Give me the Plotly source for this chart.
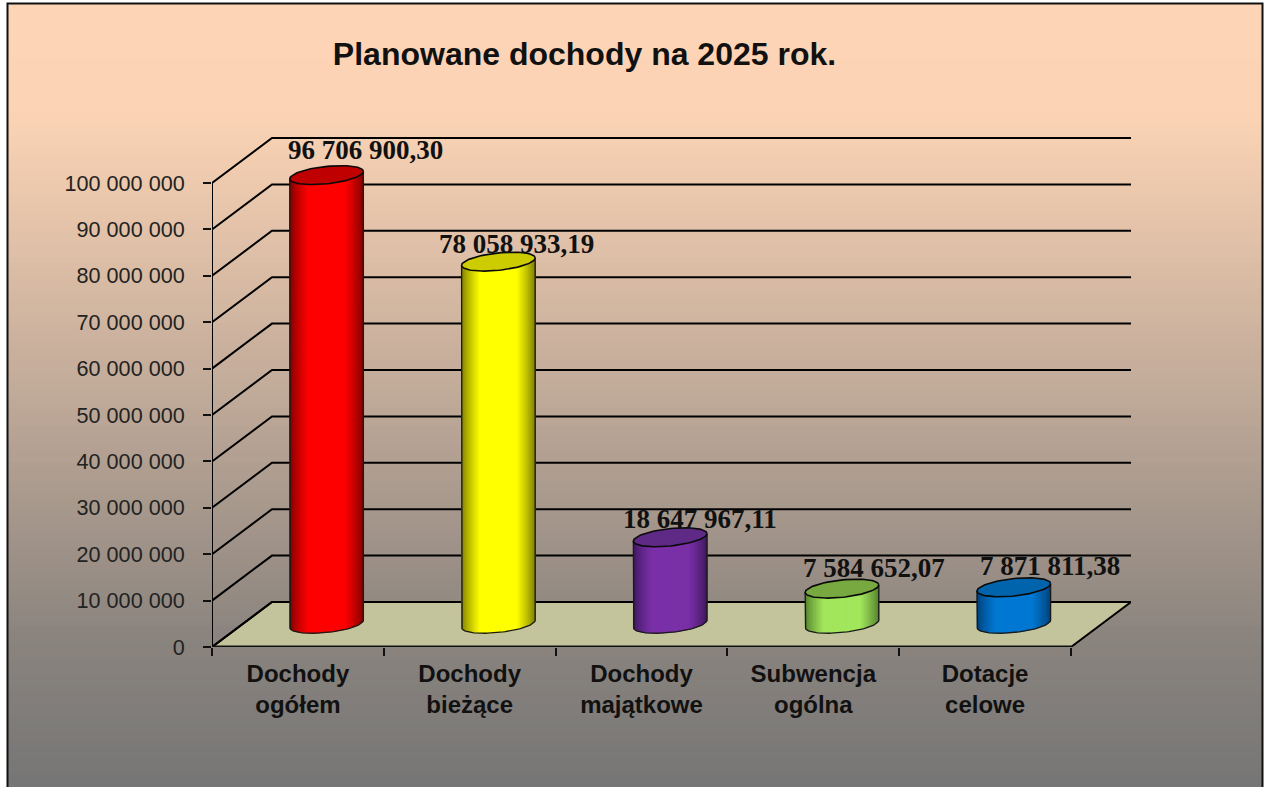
import numpy as np
import plotly.graph_objects as go

# ---- data ----
categories = ["Dochody<br>ogółem", "Dochody<br>bieżące", "Dochody<br>majątkowe", "Subwencja<br>ogólna", "Dotacje<br>celowe"]
values = [96706900.30, 78058933.19, 18647967.11, 7584652.07, 7871811.38]
value_labels = ["96 706 900,30", "78 058 933,19", "18 647 967,11", "7 584 652,07", "7 871 811,38"]
y_ticks = [0, 10000000, 20000000, 30000000, 40000000, 50000000, 60000000, 70000000, 80000000, 90000000, 100000000]
y_tick_labels = ["0", "10 000 000", "20 000 000", "30 000 000", "40 000 000", "50 000 000",
                 "60 000 000", "70 000 000", "80 000 000", "90 000 000", "100 000 000"]
title_text = "Planowane dochody na 2025 rok."

# ---- styles / geometry ----
W, H = 1264, 787
L, T, R, B = 212, 137, 1131, 647
PX_X = 171.8
PX_Y = 4.64e-6
XMAX = (R - L) / PX_X
YMAX = (B - T) / PX_Y
DX = 60 / PX_X          # depth of the floor, x units
DY = 45 / PX_Y          # depth of the floor, y units
BAR_DX = 0.478
BAR_DY = 0.515
A = 36.8 / PX_X
EB = 8.7 / PX_Y
ES = 3.7 / PX_Y
center_cols = ["#FF0000", "#FFFF00", "#7A30A8", "#A2E65C", "#0078D2"]
edge_cols = ["#7C0000", "#7A7A00", "#3E1A5E", "#527E2E", "#004078"]
top_cols = ["#C00000", "#CCCC00", "#5E2A85", "#78A840", "#0064AC"]
label_shift = [(39, 25), (18, 18), (30, 18), (32, 21), (36, 21)]
FLOOR = "#C3C39C"
BG_STOPS = [(0.0, (254, 214, 183)), (0.14, (252, 212, 181)), (0.5, (192, 170, 153)), (0.8, (140, 133, 127)), (1.0, (118, 118, 118))]


def rgb(c):
    c = c.lstrip("#")
    return np.array([int(c[i:i + 2], 16) for i in (0, 2, 4)], float)


def mix(a, b, g):
    v = rgb(a) + (rgb(b) - rgb(a)) * g
    return "rgb(%d,%d,%d)" % tuple(v)


fig = go.Figure()


def line(xs, ys, color="black", width=2):
    fig.add_trace(go.Scatter(x=xs, y=ys, mode="lines", line=dict(color=color, width=width),
                             hoverinfo="skip", showlegend=False, cliponaxis=False))


def poly(xs, ys, fill, lc=None, lw=0.6):
    fig.add_trace(go.Scatter(x=list(xs), y=list(ys), mode="lines", fill="toself", fillcolor=fill,
                             line=dict(color=lc or fill, width=lw), hoverinfo="skip",
                             showlegend=False, cliponaxis=False))


# floor
n = len(categories)
poly([0, n, n + DX, DX, 0], [0, 0, DY, DY, 0], FLOOR, "black", 2)

# walls / grid
gx, gy = [], []
for v in y_ticks:
    gx += [0, DX, n + DX, None]
    gy += [v, v + DY, v + DY, None]
line(gx, gy)
line([0, 0], [0, y_ticks[-1]])
line([0, n], [0, 0], "#111111", 3)

# cylinders
phi = np.linspace(np.pi, 0, 41)
U = np.cos(phi)


def front(u):
    return ES * u - EB * np.sqrt(np.clip(1 - u * u, 0, 1))


for i, v in enumerate(values):
    cx = i + 0.5 + BAR_DX * DX
    y0 = BAR_DY * DY
    y1 = y0 + v
    for k in range(len(U) - 1):
        u = np.linspace(U[k], U[min(k + 2, len(U) - 1)], 5)
        um = (U[k] + U[k + 1]) / 2
        g = min(1.0, (1 - abs(um)) / 0.5) ** 0.8
        col = mix(edge_cols[i], center_cols[i], g)
        xs = np.r_[cx + A * u, cx + A * u[::-1], cx + A * u[0]]
        ys = np.r_[y0 + front(u), y1 + front(u[::-1]), y0 + front(u[:1])]
        poly(xs, ys, col, col, 0.3)
    # outline of the body
    uu = np.cos(np.linspace(np.pi, 0, 60))
    line(np.r_[cx - A, cx + A * uu, cx + A], np.r_[y1 - ES, y0 + front(uu), y1 + ES], "#1a1a1a", 1.3)
    # top ellipse
    t = np.linspace(0, 2 * np.pi, 90)
    poly(cx + A * np.cos(t), y1 + ES * np.cos(t) + EB * np.sin(t), top_cols[i], "#0a0a0a", 1.6)

# background as stacked paper strips, frame
def px(x):
    return (x - L) / (R - L)


def py(y):
    return (B - y) / (B - T)


shapes = []
N = 130
stops = np.array([s[0] for s in BG_STOPS])
chan = np.array([s[1] for s in BG_STOPS], float)
FX0, FX1, FY0 = 7.5, 1262.5, 3.5
for k in range(N):
    a0 = FY0 + (H + 2 - FY0) * k / N
    a1 = FY0 + (H + 2 - FY0) * (k + 1.6) / N
    f = (k + 0.5) / N
    c = [np.interp(f, stops, chan[:, j]) for j in range(3)]
    shapes.append(dict(type="rect", xref="paper", yref="paper", layer="below",
                       x0=px(FX0), x1=px(FX1), y0=py(a0), y1=py(min(a1, H + 2)),
                       fillcolor="rgb(%d,%d,%d)" % tuple(c), line=dict(width=0)))
shapes.append(dict(type="path", xref="paper", yref="paper", layer="below",
                   path="M %f %f L %f %f L %f %f L %f %f" % (px(FX0), py(H + 2), px(FX0), py(FY0), px(FX1), py(FY0), px(FX1), py(H + 2)),
                   line=dict(color="#111111", width=2)))

# value labels
annotations = []
for i, v in enumerate(values):
    annotations.append(dict(x=i + 0.5 + BAR_DX * DX, y=BAR_DY * DY + v, text=value_labels[i], showarrow=False,
                            xref="x", yref="y", xanchor="center", yanchor="middle",
                            xshift=label_shift[i][0], yshift=label_shift[i][1],
                            font=dict(family="Liberation Serif", size=27, color="#111111", weight="bold")))

fig.update_layout(
    width=W, height=H, autosize=False,
    margin=dict(l=L, r=W - R, t=T, b=H - B),
    paper_bgcolor="white", plot_bgcolor="rgba(0,0,0,0)",
    shapes=shapes, annotations=annotations, showlegend=False,
    title=dict(text=title_text, x=(334 + 835) / 2 / W, xanchor="center", y=1 - 54 / H, yanchor="middle",
               font=dict(family="Liberation Sans", size=32, color="#111111", weight="bold")),
    xaxis=dict(range=[0, XMAX], showgrid=False, zeroline=False, showline=False,
               tickmode="array", tickvals=[i + 0.5 for i in range(n)], ticktext=categories,
               ticks="outside", ticklen=0, ticklabelstandoff=5,
               tickfont=dict(family="Liberation Sans", size=24, color="#111111", weight="bold"),
               minor=dict(tickmode="array", tickvals=list(range(n + 1)), ticks="outside", ticklen=8, tickwidth=2, tickcolor="#111111")),
    yaxis=dict(range=[0, YMAX], showgrid=False, zeroline=False, showline=False,
               tickmode="array", tickvals=y_ticks, ticktext=y_tick_labels,
               ticks="outside", ticklen=8, tickwidth=2, tickcolor="#111111", ticklabelstandoff=14,
               tickfont=dict(family="Liberation Sans", size=21.6, color="#222222")),
)

fig.write_html("out.html", config=dict(displayModeBar=False),
               post_script="document.body.style.margin='0';document.body.style.overflow='hidden';")
